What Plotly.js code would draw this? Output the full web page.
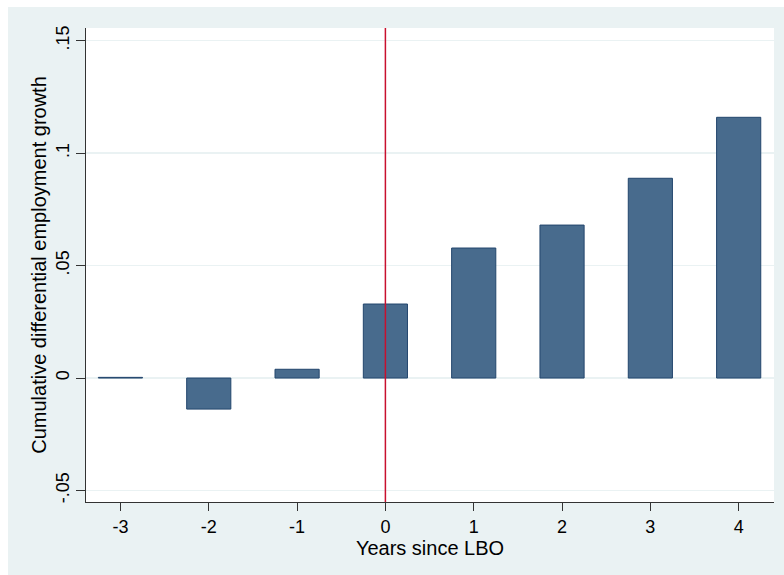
<!DOCTYPE html>
<html>
<head>
<meta charset="utf-8">
<script src="https://cdn.plot.ly/plotly-3.0.1.min.js"></script>
<style>
html,body{margin:0;padding:0;background:#ffffff;}
#chart{position:absolute;left:8px;top:7px;width:776px;height:568px;}
</style>
</head>
<body>
<div id="chart"></div>
<script>
var years = [-3, -2, -1, 0, 1, 2, 3, 4];
var growth = [0.0003, -0.0138, 0.0039, 0.0329, 0.0578, 0.068, 0.0888, 0.1159];
var xTickVals = [-3, -2, -1, 0, 1, 2, 3, 4];
var xTickText = ['-3', '-2', '-1', '0', '1', '2', '3', '4'];
var yTickVals = [-0.05, 0, 0.05, 0.1, 0.15];
var yTickText = ['-.05', '0', '.05', '.1', '.15'];

var tickFont = {family: 'Liberation Sans, Arial, sans-serif', size: 18, color: '#000000'};
var titleFont = {family: 'Liberation Sans, Arial, sans-serif', size: 20, color: '#000000'};

var trace = {
  type: 'bar',
  x: years,
  y: growth,
  width: 0.5,
  marker: {color: '#486b8d', line: {color: '#23466d', width: 1}},
  hoverinfo: 'skip'
};

var layout = {
  width: 776,
  height: 568,
  margin: {l: 78, r: 10, t: 21, b: 73},
  paper_bgcolor: '#eaf2f3',
  plot_bgcolor: '#ffffff',
  showlegend: false,
  font: tickFont,
  xaxis: {
    range: [-3.39, 4.40],
    tickmode: 'array',
    tickvals: xTickVals,
    ticktext: xTickText,
    ticks: 'outside',
    ticklen: 8,
    tickwidth: 1,
    tickcolor: '#333333',
    showline: true,
    linecolor: '#333333',
    linewidth: 1,
    showgrid: false,
    zeroline: false,
    tickfont: tickFont,
    title: {text: 'Years since LBO', font: titleFont, standoff: 0}
  },
  yaxis: {
    range: [-0.0551, 0.1556],
    tickmode: 'array',
    tickvals: yTickVals,
    ticktext: yTickText,
    tickangle: -90,
    ticks: 'outside',
    ticklen: 9,
    tickwidth: 1,
    tickcolor: '#333333',
    showline: true,
    linecolor: '#333333',
    linewidth: 1,
    showgrid: true,
    gridcolor: '#eaf2f3',
    gridwidth: 1.5,
    zeroline: false,
    tickfont: tickFont,
    title: {text: 'Cumulative differential employment growth', font: titleFont, standoff: 0}
  },
  shapes: [{
    type: 'line',
    xref: 'x', yref: 'paper',
    x0: 0, x1: 0, y0: 0, y1: 1,
    line: {color: '#c8102e', width: 1.5},
    layer: 'above'
  }]
};

Plotly.newPlot('chart', [trace], layout, {displayModeBar: false, staticPlot: true});
</script>
</body>
</html>
